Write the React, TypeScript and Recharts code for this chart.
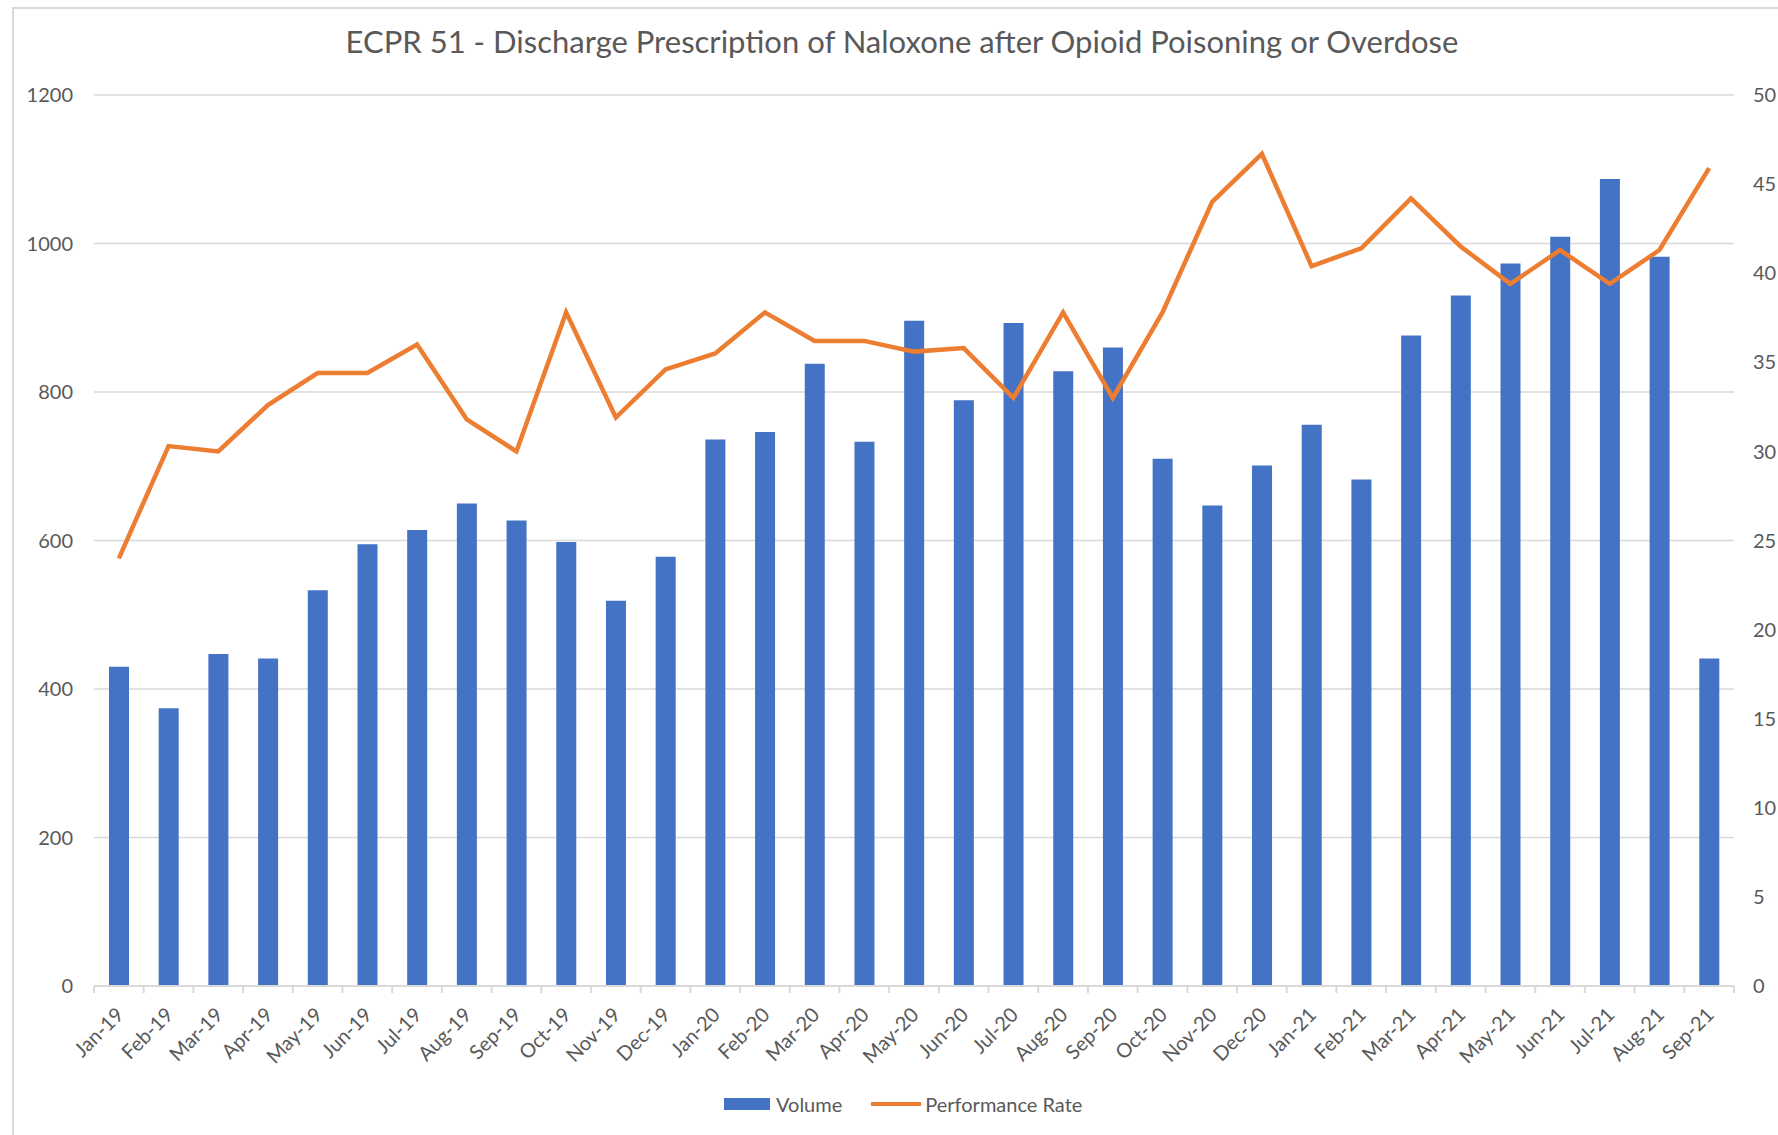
import React from 'react';
import { ComposedChart, Bar, Line, XAxis, YAxis, CartesianGrid, Legend } from 'recharts';

const months = [
  'Jan-19', 'Feb-19', 'Mar-19', 'Apr-19', 'May-19', 'Jun-19', 'Jul-19', 'Aug-19', 'Sep-19', 'Oct-19', 'Nov-19', 'Dec-19',
  'Jan-20', 'Feb-20', 'Mar-20', 'Apr-20', 'May-20', 'Jun-20', 'Jul-20', 'Aug-20', 'Sep-20', 'Oct-20', 'Nov-20', 'Dec-20',
  'Jan-21', 'Feb-21', 'Mar-21', 'Apr-21', 'May-21', 'Jun-21', 'Jul-21', 'Aug-21', 'Sep-21',
];

const volume = [
  430, 374, 447, 441, 533, 595, 614, 650, 627, 598, 519, 578,
  736, 746, 838, 733, 896, 789, 893, 828, 860, 710, 647, 701,
  756, 682, 876, 930, 973, 1009, 1087, 982, 441,
];

const performanceRate = [
  24.0, 30.3, 30.0, 32.6, 34.4, 34.4, 36.0, 31.8, 30.0, 37.8, 31.9, 34.6,
  35.5, 37.8, 36.2, 36.2, 35.6, 35.8, 33.0, 37.8, 33.0, 37.8, 44.0, 46.7,
  40.4, 41.4, 44.2, 41.5, 39.4, 41.3, 39.4, 41.3, 45.9,
];

const leftTicks = [0, 200, 400, 600, 800, 1000, 1200];
const rightTicks = [0, 5, 10, 15, 20, 25, 30, 35, 40, 45, 50];
const seriesOrder = ['Volume', 'Performance Rate'];

const data = months.map((m, i) => ({ month: m, Volume: volume[i], 'Performance Rate': performanceRate[i] }));

const W = 1778;
const H = 1135;
const LEFT_W = 94;
const RIGHT_W = 44;
const BAND = (W - LEFT_W - RIGHT_W) / months.length;
const GRAY = '#d9d9d9';
const TEXT = '#595959';
const FONT = 'Lato, sans-serif';

const XTick = (props: any) => {
  const { x, y, payload, index } = props;
  const tx = x + 6;
  const ty = y + 30;
  return (
    <g>
      <line x1={x - BAND / 2} y1={y} x2={x - BAND / 2} y2={y + 7} stroke={GRAY} strokeWidth={2} />
      {index === months.length - 1 && (
        <line x1={x + BAND / 2} y1={y} x2={x + BAND / 2} y2={y + 7} stroke={GRAY} strokeWidth={2} />
      )}
      <text x={tx} y={ty} textAnchor="end" fill={TEXT} fontSize={20} fontFamily={FONT} transform={`rotate(-45, ${tx}, ${ty})`}>
        {payload.value}
      </text>
    </g>
  );
};

const LegendContent = (props: any) => {
  const items = [...(props.payload || [])].sort(
    (a: any, b: any) => seriesOrder.indexOf(a.value) - seriesOrder.indexOf(b.value)
  );
  return (
    <div style={{ display: 'flex', alignItems: 'center', fontFamily: FONT, fontSize: 20, color: TEXT }}>
      {items.map((entry: any, i: number) => (
        <div key={i} style={{ display: 'flex', alignItems: 'center', marginRight: 29 }}>
          {entry.type === 'line' ? (
            <div style={{ width: 50, height: 4, background: entry.color, marginRight: 4 }} />
          ) : (
            <div style={{ width: 46, height: 12, background: entry.color, marginRight: 6 }} />
          )}
          <span>{entry.value}</span>
        </div>
      ))}
    </div>
  );
};

const App: React.FC = () => {
  return (
    <div style={{ position: 'absolute', left: 0, top: 0, width: W, height: H, background: '#fff', overflow: 'hidden' }}>
      <div style={{ position: 'absolute', left: 12, top: 7, width: W, height: H, borderLeft: `2px solid ${GRAY}`, borderTop: `2px solid ${GRAY}` }} />
      <div
        style={{
          position: 'absolute',
          left: 902,
          top: 26,
          transform: 'translateX(-50%)',
          whiteSpace: 'nowrap',
          fontFamily: FONT,
          fontSize: 31,
          lineHeight: '31px',
          color: TEXT,
        }}
      >
        ECPR 51 - Discharge Prescription of Naloxone after Opioid Poisoning or Overdose
      </div>
      <div style={{ position: 'absolute', left: 0, top: 0 }}>
        <ComposedChart width={W} height={H} data={data} margin={{ top: 95, right: 0, bottom: 0, left: 0 }}>
          <CartesianGrid yAxisId="left" vertical={false} stroke={GRAY} strokeWidth={1.5} />
          <XAxis
            dataKey="month"
            height={149}
            interval={0}
            tickLine={false}
            tickSize={0}
            tickMargin={0}
            axisLine={{ stroke: GRAY, strokeWidth: 2 }}
            tick={<XTick />}
          />
          <YAxis
            yAxisId="left"
            width={LEFT_W}
            domain={[0, 1200]}
            ticks={leftTicks}
            axisLine={false}
            tickLine={false}
            tickSize={0}
            tickMargin={21}
            tick={{ fill: TEXT, fontSize: 20, fontFamily: FONT }}
          />
          <YAxis
            yAxisId="right"
            orientation="right"
            width={RIGHT_W}
            domain={[0, 50]}
            ticks={rightTicks}
            axisLine={false}
            tickLine={false}
            tickSize={0}
            tickMargin={19}
            tick={{ fill: TEXT, fontSize: 20, fontFamily: FONT, textAnchor: 'start' }}
          />
          <Legend
            layout="horizontal"
            verticalAlign="middle"
            align="center"
            content={<LegendContent />}
            wrapperStyle={{ left: 724, top: 1092, width: 'auto' }}
          />
          <Bar yAxisId="left" dataKey="Volume" fill="#4472C4" barSize={20} isAnimationActive={false} />
          <Line
            yAxisId="right"
            type="linear"
            dataKey="Performance Rate"
            stroke="#ED7D31"
            strokeWidth={4.5}
            dot={false}
            activeDot={false}
            isAnimationActive={false}
          />
        </ComposedChart>
      </div>
    </div>
  );
};

export default App;
